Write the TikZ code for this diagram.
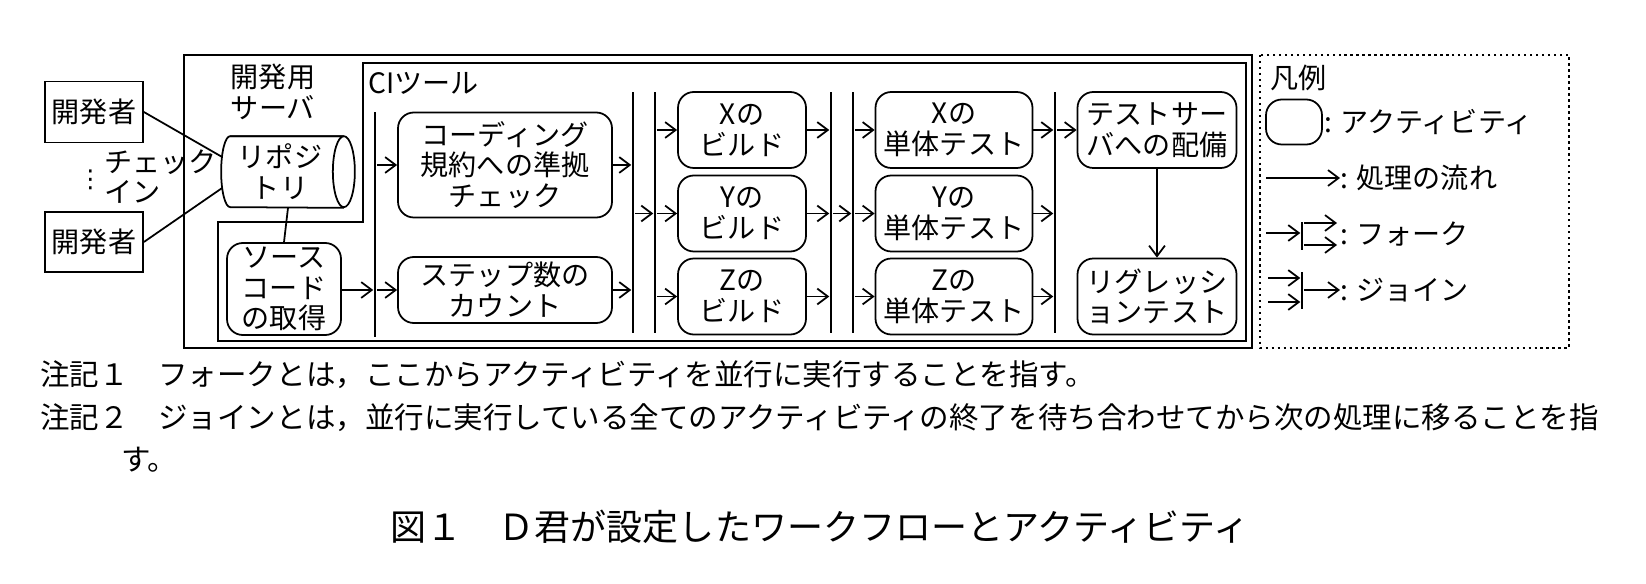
\documentclass[tikz,border=0pt]{standalone}
\usepackage{fontspec}
\setmainfont{Noto Sans CJK JP}
\newfontfamily\dvs{DejaVu Sans}
\usetikzlibrary{arrows.meta,shapes.geometric,calc}
\begin{document}
\begin{tikzpicture}[x=0.02cm,y=-0.02cm,
  sz/.style 2 args={minimum width=#1*0.02cm, minimum height=#2*0.02cm},
  txt/.style={font=\fontsize{16}{17.5}\selectfont, align=center, inner sep=0pt},
  act/.style={txt, draw, line width=1pt, rounded corners=9pt},
  rect/.style={txt, draw, line width=1pt},
  bar/.style={fill=black, inner sep=0pt, minimum width=1.6pt},
  fl/.style={line width=1pt, -{Straight Barb[length=6pt,width=9pt,line width=1pt]}},
  ln/.style={line width=1pt},
  note/.style={font=\fontsize{16.8}{19}\selectfont, anchor=west, inner sep=0pt}]
\useasboundingbox (0,0) rectangle (1646,584);
% containers
\draw[line width=1.1pt] (184,55) rectangle (1252,348);
\draw[line width=1.1pt] (363,63) -- (1246,63) -- (1246,341) -- (218,341) -- (218,222) -- (363,222) -- cycle;
\draw[line width=1.4pt, dotted] (1260,55) rectangle (1569,348);
\node[txt] (srv) at (273,92) {開発用\\サーバ};
\node[txt, anchor=west] (ci) at (368,83) {CIツール};
% developers
\node[rect, sz={98}{61}] (dev1) at (94,112) {開発者};
\node[rect, sz={98}{60}] (dev2) at (94,242) {開発者};
\node[txt, anchor=west] (chk) at (104,162) {チェック};
\node[txt, anchor=west] (in) at (104,192) {イン};
\node[txt, anchor=east, font=\dvs\fontsize{14}{16}\selectfont] (colon) at (103,180) {⋮};
% repo (cylinder drawn round a plain node)
\node[txt, sz={133}{71}] (repo) at (288,172) {};
\node[txt] (repot) at (280,172) {リポジ\\トリ};
\draw[ln] ($(repo.north west)+(9,0)$) -- ($(repo.north east)+(-11,0)$)
  arc[start angle=90, end angle=-270, x radius=11*0.02cm, y radius=35.5*0.02cm];
\draw[ln] ($(repo.north east)+(-11,0)$) -- ($(repo.north west)+(9,0)$)
  arc[start angle=90, end angle=270, x radius=9*0.02cm, y radius=35.5*0.02cm]
  -- ($(repo.south east)+(-11,0)$);
\node[act, sz={114}{92}] (src) at (284,289) {ソース\\コード\\の取得};
% activities
\node[act, sz={214}{105}] (cod) at (505,165) {コーディング\\規約への準拠\\チェック};
\node[act, sz={214}{66}] (step) at (505,290) {ステップ数の\\カウント};
\node[act, sz={128}{76}] (bx) at (742,130) {Xの\\ビルド};
\node[act, sz={128}{76}] (by) at (742,213.5) {Yの\\ビルド};
\node[act, sz={128}{76}] (bz) at (742,296.5) {Zの\\ビルド};
\node[act, sz={157}{76}] (tx) at (954,130) {Xの\\単体テスト};
\node[act, sz={157}{76}] (ty) at (954,213.5) {Yの\\単体テスト};
\node[act, sz={157}{76}] (tz) at (954,296.5) {Zの\\単体テスト};
\node[act, sz={159}{76}] (dep) at (1157,130) {テストサー\\バへの配備};
\node[act, sz={159}{76}] (reg) at (1157,296.5) {リグレッシ\\ョンテスト};
% bars
\node[bar, minimum height={225*0.02cm}] (b1) at (375,224.5) {};
\node[bar, minimum height={241*0.02cm}] (b2) at (633,212.5) {};
\node[bar, minimum height={241*0.02cm}] (b3) at (655,212.5) {};
\node[bar, minimum height={241*0.02cm}] (b4) at (831,212.5) {};
\node[bar, minimum height={241*0.02cm}] (b5) at (853,212.5) {};
\node[bar, minimum height={241*0.02cm}] (b6) at (1055,212.5) {};
% connectors
\draw[ln] (dev1.east) -- ($(repo.west)+(1,-15)$);
\draw[ln] (dev2.east) -- ($(repo.west)+(1,16)$);
\draw[ln] (repo.south) -- (src.north);
\draw[fl] (b1.east |- cod) -- (cod.west);
\draw[fl] (src.east |- step) -- (step -| b1.west);
\draw[fl] (b1.east |- step) -- (step.west);
\draw[fl] (cod.east) -- (cod.east -| b2.west);
\draw[fl] (step.east) -- (step.east -| b2.west);
\draw[fl] (b2.east |- by) -- (b3.west |- by);
\foreach \n in {bx,by,bz}{
  \draw[fl] (b3.east |- \n) -- (\n.west);
  \draw[fl] (\n.east) -- (\n.east -| b4.west);}
\draw[fl] (b4.east |- by) -- (b5.west |- by);
\foreach \n in {tx,ty,tz}{
  \draw[fl] (b5.east |- \n) -- (\n.west);
  \draw[fl] (\n.east) -- (\n.east -| b6.west);}
\draw[fl] (b6.east |- dep) -- (dep.west);
\draw[fl] (dep.south) -- (reg.north);
% legend
\node[txt, anchor=west] (lg) at (1270,78) {凡例};
\node[draw, line width=1pt, rounded corners=9pt, sz={56}{45}] (lact) at (1294,122) {};
\node[txt, anchor=west] (lt1) at (1324,122) {: アクティビティ};
\coordinate (la0) at (1266,178);
\node[txt, anchor=west] (lt2) at (1340,178) {: 処理の流れ};
\draw[fl] (la0) -- (lt2.west);
\node[bar, minimum height={28*0.02cm}] (fb) at (1302,236) {};
\coordinate (fa0) at (1266,233);
\node[txt, anchor=west] (lt3) at (1340,234) {: フォーク};
\draw[fl] (fa0) -- (fa0 -| fb.west);
\draw[fl] (fb.east |- 0,223) -- (1337,223);
\draw[fl] (fb.east |- 0,245) -- (1337,245);
\node[bar, minimum height={37*0.02cm}] (jb) at (1302,290) {};
\node[txt, anchor=west] (lt5) at (1340,290) {: ジョイン};
\coordinate (ja1) at (1268,278);
\coordinate (ja2) at (1268,302);
\draw[fl] (ja1) -- (ja1 -| jb.west);
\draw[fl] (ja2) -- (ja2 -| jb.west);
\draw[fl] (jb.east) -- (lt5.west);
% notes
\node[note] (n1) at (40,375) {注記１\quad フォークとは，ここからアクティビティを並行に実行することを指す。};
\node[note] (n2) at (40,418) {注記２\quad ジョインとは，並行に実行している全てのアクティビティの終了を待ち合わせてから次の処理に移ることを指};
\node[note] (n3) at (121,460) {す。};
\node[font=\fontsize{20.5}{23}\selectfont, inner sep=0pt] (cap) at (820,527) {図１\quad Ｄ君が設定したワークフローとアクティビティ};
\end{tikzpicture}
\end{document}
